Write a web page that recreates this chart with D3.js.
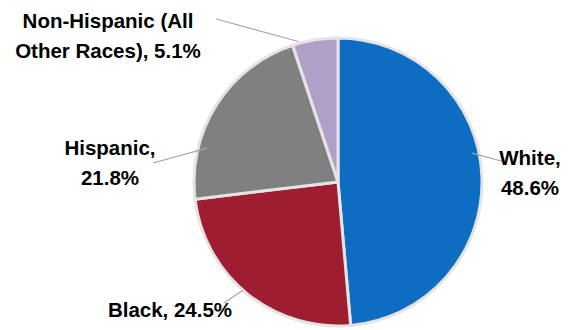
<!DOCTYPE html>
<html>
<head>
<meta charset="utf-8">
<script src="https://cdn.jsdelivr.net/npm/d3@7"></script>
<style>
  body { margin: 0; background: #fff; }
</style>
</head>
<body>
<div id="chart"></div>
<script>
const categories = ["White", "Black", "Hispanic", "Non-Hispanic (All Other Races)"];
const shares = [48.6, 24.5, 21.8, 5.1];
const labelLines = [
    ["White,", "48.6%"],
    ["Black, 24.5%"],
    ["Hispanic,", "21.8%"],
    ["Non-Hispanic (All", "Other Races), 5.1%"]
];
const colors = ["#0F6CC3", "#9E1D30", "#808080", "#B09FC6"];

// label placement (Excel-style manual layout)
const labelLayout = [
    {x: 530, y: 165, lx: 505, ly: 162, angle: 77.8, r: 137},
    {x: 170, y: 317, lx: 224, ly: 303, angle: 221.3, r: 144},
    {x: 110, y: 155, lx: 153, ly: 163, angle: 284.5, r: 135},
    {x: 108, y: 28, lx: 216, ly: 19, angle: 344.2, r: 146}
];

const width = 569, height = 330;
const cx = 338, cy = 182, radius = 144;

const data = categories.map((c, i) => ({cat: c, value: shares[i], lines: labelLines[i], color: colors[i], pos: labelLayout[i]}));

const svg = d3.select("#chart")
    .append("svg")
    .attr("width", width)
    .attr("height", height);

const pie = d3.pie()
    .value(d => d.value)
    .sort(null);

const arc = d3.arc()
    .innerRadius(0)
    .outerRadius(radius);

const g = svg.append("g")
    .attr("transform", `translate(${cx}, ${cy})`);

g.selectAll(".slice")
    .data(pie(data))
    .enter()
    .append("path")
    .attr("class", "slice")
    .attr("d", arc)
    .attr("fill", d => d.data.color)
    .attr("stroke", "#E4E4E4")
    .attr("stroke-width", 3)
    .attr("stroke-linejoin", "round");

// leader lines
svg.selectAll(".leader")
    .data(data)
    .enter()
    .append("line")
    .attr("class", "leader")
    .attr("x1", d => d.pos.lx)
    .attr("y1", d => d.pos.ly)
    .attr("x2", d => cx + d.pos.r * Math.sin(d.pos.angle * Math.PI / 180))
    .attr("y2", d => cy - d.pos.r * Math.cos(d.pos.angle * Math.PI / 180))
    .attr("stroke", "#A6A6A6")
    .attr("stroke-width", 1.2);

const labels = svg.selectAll(".label")
    .data(data)
    .enter()
    .append("text")
    .attr("class", "label")
    .attr("text-anchor", "middle")
    .attr("font-family", "'Liberation Sans', Arial, sans-serif")
    .attr("font-weight", "bold")
    .attr("font-size", "20.5px")
    .attr("fill", "#000");

labels.selectAll("tspan")
    .data(d => d.lines.map((t, i) => ({t, i, x: d.pos.x, y: d.pos.y})))
    .enter()
    .append("tspan")
    .attr("x", d => d.x)
    .attr("y", d => d.y + d.i * 30)
    .text(d => d.t);
</script>
</body>
</html>
